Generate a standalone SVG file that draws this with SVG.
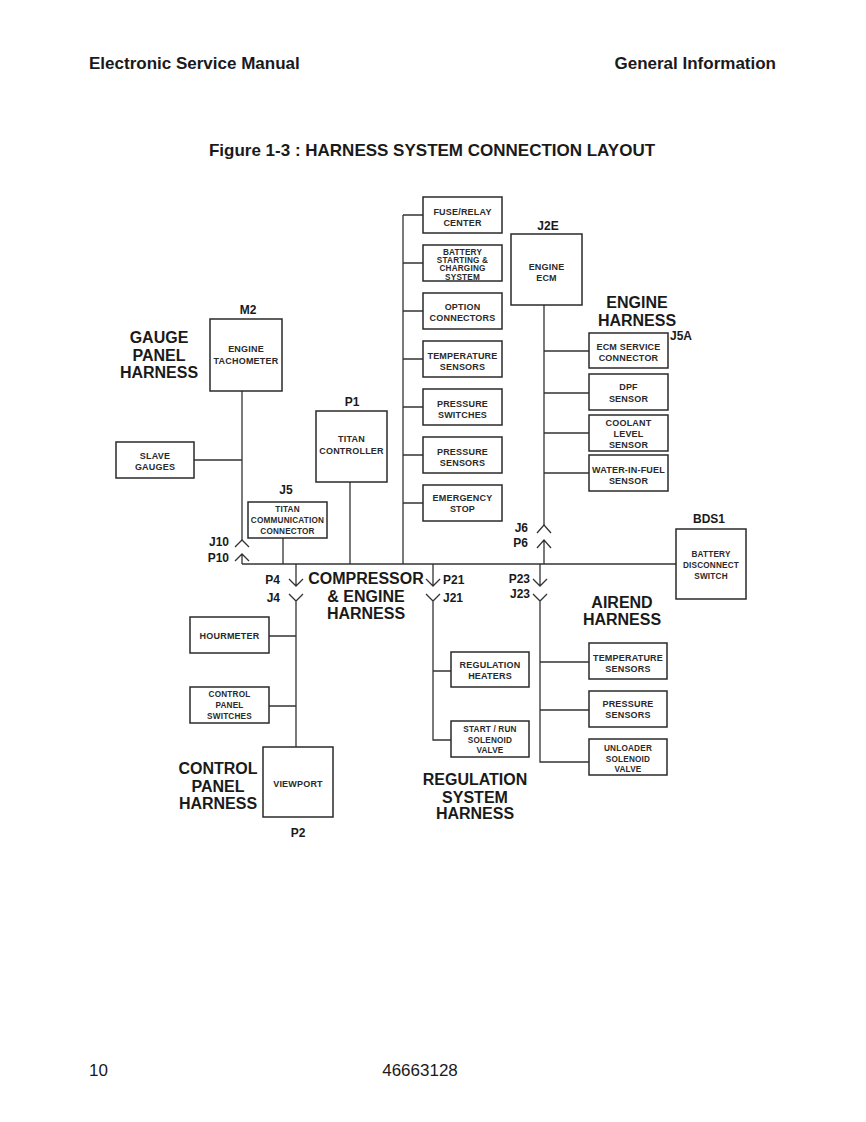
<svg xmlns="http://www.w3.org/2000/svg" width="866" height="1122" viewBox="0 0 866 1122">
<style>
text{font-family:"Liberation Sans",Arial,sans-serif;fill:#1a1a1a}
.hd{font-size:17px;font-weight:bold}
.ft{font-size:17px}
.box{fill:#fff;stroke:#2a2a2a;stroke-width:1.5}
.ln{stroke:#333;stroke-width:1.3;fill:none}
.bt{font-size:9px;font-weight:bold;text-anchor:middle;letter-spacing:0.2px;fill:#2a2a2a}
.bs{font-size:8.2px;font-weight:bold;text-anchor:middle;letter-spacing:0.2px;fill:#2a2a2a}
.big{font-size:16px;font-weight:bold;text-anchor:middle}
.lb{font-size:12px;font-weight:bold}
.m{text-anchor:middle}
.e{text-anchor:end}
</style>
<rect width="866" height="1122" fill="#fff"/>
<text class="hd" x="89" y="69">Electronic Service Manual</text>
<text class="hd" x="776" y="69" text-anchor="end">General Information</text>
<text class="hd" x="432" y="156" text-anchor="middle">Figure 1-3 : HARNESS SYSTEM CONNECTION LAYOUT</text>
<text class="ft" x="89" y="1076">10</text>
<text class="ft" x="420" y="1076" text-anchor="middle">46663128</text>

<g id="connectors">
<!-- main bus -->
<path class="ln" d="M242 564H676"/>
<!-- left column bus -->
<path class="ln" d="M403 215V564M403 215H423M403 263H423M403 311H423M403 359H423M403 407H423M403 455H423M403 503H423"/>
<!-- ECM bus -->
<path class="ln" d="M544 305V525M544 351H589M544 393H589M544 433H589M544 473H589"/>
<path class="ln" d="M537 533L544 525L551 533M537 548L544 540L551 548M544 540V564"/>
<!-- gauge -->
<path class="ln" d="M242 391V540M194 460H242"/>
<path class="ln" d="M235 547L242 540L249 547M235 561L242 554L249 561M242 554V564"/>
<!-- titan controller and comm -->
<path class="ln" d="M350 482V564M283 538V564"/>
<!-- P4/J4 -->
<path class="ln" d="M296 564V586M289 579L296 586L303 579M289 594L296 601L303 594M296 601V747M269 636H296M269 706H296"/>
<!-- P21/J21 -->
<path class="ln" d="M433 564V586M426 579L433 586L440 579M426 594L433 601L440 594M433 601V740H451M433 671H451"/>
<!-- P23/J23 -->
<path class="ln" d="M540 564V586M533 579L540 586L547 579M533 594L540 601L547 594M540 601V762H589M540 662H589M540 710H589"/>
</g>

<g id="fuse-relay"><rect class="box" x="423" y="197" width="79" height="36"/><text class="bt" x="462.5" y="214.5">FUSE/RELAY</text><text class="bt" x="462.5" y="225.5">CENTER</text></g>
<g id="battery-charging"><rect class="box" x="423" y="245" width="79" height="36"/><text class="bs" x="462.5" y="255">BATTERY</text><text class="bs" x="462.5" y="263">STARTING &amp;</text><text class="bs" x="462.5" y="271">CHARGING</text><text class="bs" x="462.5" y="279.5">SYSTEM</text></g>
<g id="option-connectors"><rect class="box" x="423" y="293" width="79" height="36"/><text class="bt" x="462.5" y="310">OPTION</text><text class="bt" x="462.5" y="320.5">CONNECTORS</text></g>
<g id="temperature-sensors-1"><rect class="box" x="423" y="341" width="79" height="36"/><text class="bt" x="462.5" y="359">TEMPERATURE</text><text class="bt" x="462.5" y="370">SENSORS</text></g>
<g id="pressure-switches"><rect class="box" x="423" y="389" width="79" height="36"/><text class="bt" x="462.5" y="407">PRESSURE</text><text class="bt" x="462.5" y="417.5">SWITCHES</text></g>
<g id="pressure-sensors-1"><rect class="box" x="423" y="437" width="79" height="36"/><text class="bt" x="462.5" y="455">PRESSURE</text><text class="bt" x="462.5" y="465.5">SENSORS</text></g>
<g id="emergency-stop"><rect class="box" x="423" y="485" width="79" height="36"/><text class="bt" x="462.5" y="501">EMERGENCY</text><text class="bt" x="462.5" y="512">STOP</text></g>

<g id="engine-ecm"><text class="lb m" x="548" y="230">J2E</text><rect class="box" x="511" y="234" width="71" height="71"/><text class="bt" x="546.5" y="270">ENGINE</text><text class="bt" x="546.5" y="281">ECM</text></g>
<g id="engine-harness-label"><text class="big" x="637" y="308">ENGINE</text><text class="big" x="637" y="326">HARNESS</text></g>
<g id="ecm-service"><text class="lb" x="670" y="340">J5A</text><rect class="box" x="589" y="333" width="79" height="35"/><text class="bt" x="628.5" y="350">ECM SERVICE</text><text class="bt" x="628.5" y="360.5">CONNECTOR</text></g>
<g id="dpf-sensor"><rect class="box" x="589" y="374" width="79" height="36"/><text class="bt" x="628.5" y="390">DPF</text><text class="bt" x="628.5" y="401.5">SENSOR</text></g>
<g id="coolant-sensor"><rect class="box" x="589" y="415" width="79" height="36"/><text class="bt" x="628.5" y="426">COOLANT</text><text class="bt" x="628.5" y="437">LEVEL</text><text class="bt" x="628.5" y="447.5">SENSOR</text></g>
<g id="water-in-fuel"><rect class="box" x="589" y="455" width="79" height="36"/><text class="bt" x="628.5" y="473" letter-spacing="0">WATER-IN-FUEL</text><text class="bt" x="628.5" y="484">SENSOR</text></g>

<g id="gauge-label"><text class="big" x="159" y="343">GAUGE</text><text class="big" x="159" y="361">PANEL</text><text class="big" x="159" y="378">HARNESS</text></g>
<g id="tachometer"><text class="lb m" x="248" y="314">M2</text><rect class="box" x="210" y="319" width="72" height="72"/><text class="bt" x="246" y="352">ENGINE</text><text class="bt" x="246" y="363.5" letter-spacing="0">TACHOMETER</text></g>
<g id="slave-gauges"><rect class="box" x="116" y="442" width="78" height="36"/><text class="bt" x="155" y="459">SLAVE</text><text class="bt" x="155" y="470">GAUGES</text></g>
<g id="titan-controller"><text class="lb m" x="352" y="406">P1</text><rect class="box" x="316" y="411" width="71" height="71"/><text class="bt" x="351.5" y="442">TITAN</text><text class="bt" x="351.5" y="454" letter-spacing="0">CONTROLLER</text></g>
<g id="titan-comm"><text class="lb m" x="286" y="494">J5</text><rect class="box" x="248" y="502" width="79" height="36"/><text class="bs" x="287.5" y="512">TITAN</text><text class="bs" x="287.5" y="523" letter-spacing="0">COMMUNICATION</text><text class="bs" x="287.5" y="534">CONNECTOR</text></g>

<g id="connector-labels">
<text class="lb e" x="229" y="546">J10</text><text class="lb e" x="229" y="562">P10</text>
<text class="lb e" x="528" y="532">J6</text><text class="lb e" x="528" y="547">P6</text>
<text class="lb e" x="280" y="584">P4</text><text class="lb e" x="280" y="602">J4</text>
<text class="lb" x="443" y="584">P21</text><text class="lb" x="443" y="602">J21</text>
<text class="lb e" x="530" y="583">P23</text><text class="lb e" x="530" y="598">J23</text>
</g>

<g id="compressor-label"><text class="big" x="366" y="584">COMPRESSOR</text><text class="big" x="366" y="602">&amp; ENGINE</text><text class="big" x="366" y="619">HARNESS</text></g>

<g id="battery-disconnect"><text class="lb m" x="709" y="523">BDS1</text><rect class="box" x="676" y="529" width="70" height="70"/><text class="bs" x="711" y="557">BATTERY</text><text class="bs" x="711" y="568" letter-spacing="0">DISCONNECT</text><text class="bs" x="711" y="579">SWITCH</text></g>
<g id="airend-label"><text class="big" x="622" y="608">AIREND</text><text class="big" x="622" y="625">HARNESS</text></g>

<g id="hourmeter"><rect class="box" x="190" y="617" width="79" height="36"/><text class="bt" x="229.5" y="639">HOURMETER</text></g>
<g id="control-switches"><rect class="box" x="190" y="687" width="79" height="36"/><text class="bs" x="229.5" y="697">CONTROL</text><text class="bs" x="229.5" y="708">PANEL</text><text class="bs" x="229.5" y="719">SWITCHES</text></g>
<g id="viewport"><rect class="box" x="263" y="747" width="70" height="70"/><text class="bt" x="298" y="787">VIEWPORT</text><text class="lb m" x="298" y="837">P2</text></g>
<g id="control-label"><text class="big" x="218" y="774">CONTROL</text><text class="big" x="218" y="792">PANEL</text><text class="big" x="218" y="809">HARNESS</text></g>

<g id="regulation-heaters"><rect class="box" x="451" y="652" width="78" height="35"/><text class="bt" x="490" y="668">REGULATION</text><text class="bt" x="490" y="679">HEATERS</text></g>
<g id="start-run"><rect class="box" x="451" y="721" width="78" height="36"/><text class="bs" x="490" y="732">START / RUN</text><text class="bs" x="490" y="742.5">SOLENOID</text><text class="bs" x="490" y="753">VALVE</text></g>
<g id="regulation-label"><text class="big" x="475" y="785">REGULATION</text><text class="big" x="475" y="803">SYSTEM</text><text class="big" x="475" y="819">HARNESS</text></g>

<g id="temperature-sensors-2"><rect class="box" x="589" y="643" width="78" height="36"/><text class="bt" x="628" y="661" letter-spacing="0">TEMPERATURE</text><text class="bt" x="628" y="671.5">SENSORS</text></g>
<g id="pressure-sensors-2"><rect class="box" x="589" y="691" width="78" height="36"/><text class="bt" x="628" y="707">PRESSURE</text><text class="bt" x="628" y="718">SENSORS</text></g>
<g id="unloader-valve"><rect class="box" x="589" y="739" width="78" height="36"/><text class="bs" x="628" y="751">UNLOADER</text><text class="bs" x="628" y="761.5">SOLENOID</text><text class="bs" x="628" y="772">VALVE</text></g>
</svg>
